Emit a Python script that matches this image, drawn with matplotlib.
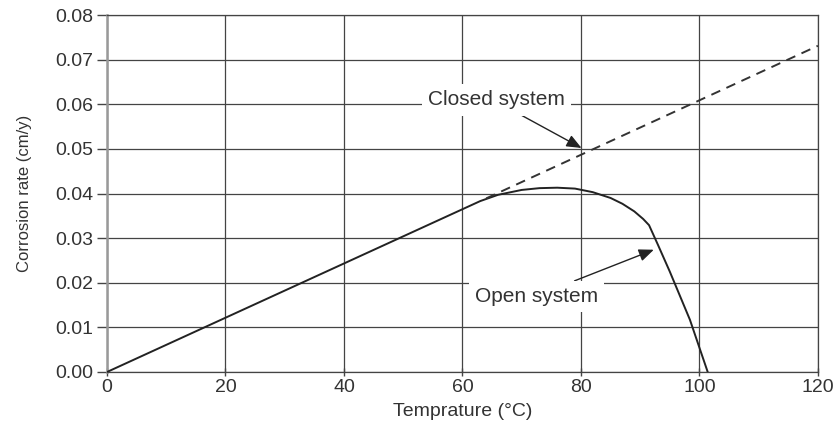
import matplotlib
matplotlib.use("Agg")
import matplotlib.pyplot as plt

plt.rcParams['font.family'] = ['Liberation Sans', 'DejaVu Sans']

open_t = [0, 63, 66, 70, 73, 76, 79, 82, 85, 87, 89, 90.5, 91.5, 93, 95, 98.4, 101.4]
open_r = [0, 0.0383, 0.0397, 0.0408, 0.0412, 0.0413, 0.0411, 0.0403,
          0.0390, 0.0377, 0.0360, 0.0343, 0.0329, 0.0285, 0.0225, 0.0117, 0.0]

# closed system: dashed straight continuation
closed_t = [64, 120]
closed_r = [0.0389, 0.0731]

xticks = [0, 20, 40, 60, 80, 100, 120]
yticks = [0.00, 0.01, 0.02, 0.03, 0.04, 0.05, 0.06, 0.07, 0.08]

txt = '#333333'
grid = '#444444'

fig = plt.figure(figsize=(8.38, 4.29), dpi=100)
ax = fig.add_axes([0.1277, 0.1329, 0.8483, 0.8321])

ax.set_xlim(0, 120)
ax.set_ylim(0, 0.08)
ax.set_xticks(xticks)
ax.set_yticks(yticks)
ax.set_xticklabels([str(t) for t in xticks], fontsize=14, color=txt)
ax.set_yticklabels(['%.2f' % v for v in yticks], fontsize=14, color=txt)
ax.tick_params(axis='y', direction='out', length=7, width=1, color=grid, pad=3)
ax.tick_params(axis='x', direction='inout', length=6, width=1, color=grid, pad=2)

ax.grid(True, color=grid, linewidth=0.9, zorder=0)
for s in ax.spines.values():
    s.set_color(grid)
    s.set_linewidth(0.9)
ax.spines['left'].set_color('#999999')
ax.spines['left'].set_linewidth(1.8)

ax.plot(open_t, open_r, color='#222222', lw=1.4, zorder=3)
ax.plot(closed_t, closed_r, color='#333333', lw=1.4, ls=(0, (5, 3.5)), zorder=3)

ax.set_xlabel('Temprature (°C)', fontsize=14, color=txt)
ax.set_ylabel('Corrosion rate (cm/y)', fontsize=12, color=txt)
ax.xaxis.set_label_coords(0.5, -0.086)
ax.yaxis.set_label_coords(-0.106, 0.5)

box = dict(boxstyle='square,pad=0.3', fc='white', ec='none')
arr = dict(arrowstyle='-|>,head_length=0.6,head_width=0.25', color='#222222',
           lw=1.0, shrinkA=0, shrinkB=0)
ax.annotate('Closed system', xy=(80.1, 0.0502), xytext=(65.8, 0.0610),
            fontsize=15, color=txt, ha='center', va='center', bbox=box,
            arrowprops=dict(arr, relpos=(0.6, 0.0)), zorder=5)
ax.annotate('Open system', xy=(92.3, 0.0274), xytext=(72.5, 0.0169),
            fontsize=15, color=txt, ha='center', va='center', bbox=box,
            arrowprops=dict(arr, relpos=(0.68, 1.0)), zorder=5)

fig.savefig('out.png', dpi=100)
